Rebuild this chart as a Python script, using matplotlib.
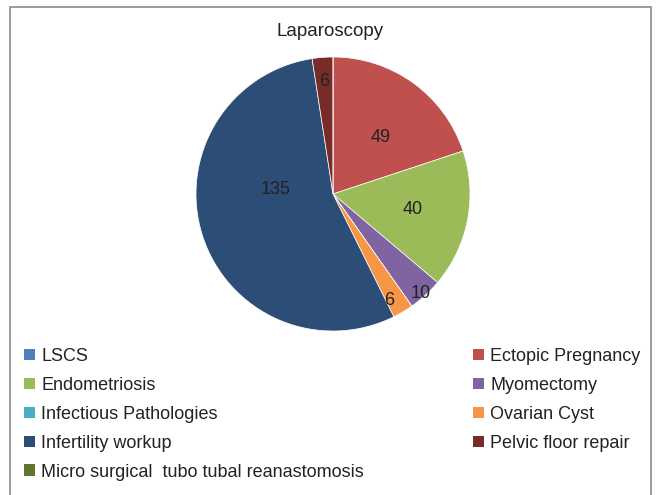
import matplotlib
matplotlib.use("Agg")
import matplotlib.pyplot as plt
from matplotlib.patches import Patch, Rectangle
import numpy as np

plt.rcParams['font.family'] = ['Liberation Sans', 'DejaVu Sans']

title = "Laparoscopy"
categories = ["LSCS", "Ectopic Pregnancy", "Endometriosis", "Myomectomy",
              "Infectious Pathologies", "Ovarian Cyst", "Infertility workup",
              "Pelvic floor repair", "Micro surgical  tubo tubal reanastomosis"]
values = [0, 49, 40, 10, 0, 6, 135, 6, 0]
colors = ["#4F81BD", "#C0504D", "#9BBB59", "#8064A2", "#4BACC6",
          "#F79646", "#2C4D75", "#772C2A", "#5F7530"]
# label radius (fraction of pie radius) and angle tweak for readability
label_r = [0.6, 0.54, 0.59, 0.97, 0.6, 0.88, 0.42, 0.82, 0.6]
label_dang = [0, -4, 0, -1, 0, -3, -22, 0, 0]

W, H = 659, 495
fig = plt.figure(figsize=(W/100, H/100), dpi=100)

# frame
fig.patches.append(Rectangle((9.5/W, -0.05), (651-9.5)/W, 1 - 6.5/H + 0.05,
                             transform=fig.transFigure, fill=False,
                             edgecolor="#8a8a8a", linewidth=1.2))

cx, cy, r = 333, 194, 137
ax = fig.add_axes([(cx - r)/W, 1 - (cy + r)/H, 2*r/W, 2*r/H])
wedges, _ = ax.pie(values, colors=colors, startangle=90, counterclock=False,
                   radius=1, wedgeprops=dict(edgecolor="white", linewidth=0.5))
ax.set_xlim(-1, 1)
ax.set_ylim(-1, 1)
ax.set_aspect('auto')
ax.axis('off')

for w, v, lr, da in zip(wedges, values, label_r, label_dang):
    if v == 0:
        continue
    ang = np.deg2rad((w.theta1 + w.theta2) / 2 + da)
    ax.text(lr*np.cos(ang), lr*np.sin(ang), str(v), ha='center', va='center',
            fontsize=13, color="#222222")

fig.text(330/W, 1 - 31/H, title, ha='center', va='center', fontsize=13.5,
         color="#222222")

handles = [Patch(facecolor=c, edgecolor='none') for c in colors]
left_idx = [0, 2, 4, 6, 8]
right_idx = [1, 3, 5, 7]
common = dict(frameon=False, fontsize=13, handlelength=0.62, handleheight=0.62,
              handletextpad=0.33, labelspacing=0.66, borderpad=0, borderaxespad=0,
              labelcolor="#222222")
leg1 = fig.legend([handles[i] for i in left_idx], [categories[i] for i in left_idx],
                  loc='upper left', bbox_to_anchor=(24/W, 1 - 348/H), **common)
leg2 = fig.legend([handles[i] for i in right_idx], [categories[i] for i in right_idx],
                  loc='upper left', bbox_to_anchor=(473/W, 1 - 348/H), **common)

fig.savefig("out.png", dpi=100)
